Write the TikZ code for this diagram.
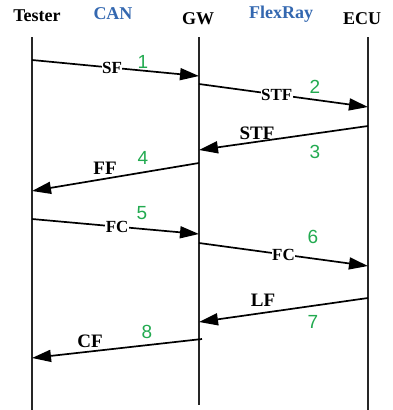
\documentclass[tikz,border=0pt]{standalone}
\usepackage{fontspec}
\setmainfont{Liberation Serif}
\newfontfamily\numfont{Liberation Sans}
\usetikzlibrary{arrows.meta}
\definecolor{netblue}{RGB}{52,104,176}
\definecolor{stepgreen}{RGB}{34,170,80}
\tikzset{
  lifeline/.style={line width=1.3pt, draw=black!85},
  msg/.style={line width=1.7pt, -{Triangle[length=19pt,width=12pt]}},
  party/.style={font=\bfseries\fontsize{18}{18}\selectfont, inner sep=0pt},
  netname/.style={font=\bfseries\fontsize{18}{18}\selectfont, text=netblue, inner sep=0pt},
  onlabel/.style={font=\bfseries\fontsize{17}{17}\selectfont, fill=white, inner sep=0.4pt},
  uplabel/.style={font=\bfseries\fontsize{19}{19}\selectfont, inner sep=0pt},
  stepno/.style={font=\numfont\fontsize{19}{19}\selectfont, text=stepgreen, inner sep=0pt}
}
\begin{document}
\begin{tikzpicture}[x=1pt,y=-1pt]
\useasboundingbox (0,0) rectangle (392,410);

% participants and networks
\node[party]   (tester) at (37,16) {Tester};
\node[netname] (can)    at (113,14) {CAN};
\node[party]   (gw)     at (198,19) {GW};
\node[netname] (flex)   at (281,14) {FlexRay};
\node[party]   (ecu)    at (362,19) {ECU};

% lifelines
\coordinate (tT) at (32,37);  \coordinate (tB) at (32,410);
\coordinate (gT) at (199,37); \coordinate (gB) at (199,405);
\coordinate (eT) at (368,37); \coordinate (eB) at (368,410);
\draw[lifeline] (tT) -- (tB);
\draw[lifeline] (gT) -- (gB);
\draw[lifeline] (eT) -- (eB);

% message end points on the lifelines
\coordinate (m1a) at (32,60);   \coordinate (m1b) at (199,76);
\coordinate (m2a) at (199,84);  \coordinate (m2b) at (368,107);
\coordinate (m3a) at (368,126); \coordinate (m3b) at (199,150);
\coordinate (m4a) at (199,163); \coordinate (m4b) at (32,191);
\coordinate (m5a) at (32,219);  \coordinate (m5b) at (199,234);
\coordinate (m6a) at (199,243); \coordinate (m6b) at (368,266);
\coordinate (m7a) at (368,298); \coordinate (m7b) at (199,322);
\coordinate (m8a) at (202,339); \coordinate (m8b) at (32,358);

% messages
\draw[msg] (m1a) -- node[onlabel, pos=0.48] (l1) {SF} (m1b);
\draw[msg] (m2a) -- node[onlabel, pos=0.46] (l2) {STF} (m2b);
\draw[msg] (m3a) -- (m3b);
\draw[msg] (m4a) -- (m4b);
\draw[msg] (m5a) -- node[onlabel, pos=0.51] (l5) {FC} (m5b);
\draw[msg] (m6a) -- node[onlabel, pos=0.50] (l6) {FC} (m6b);
\draw[msg] (m7a) -- (m7b);
\draw[msg] (m8a) -- (m8b);

% labels above the return messages
\node[uplabel] (l3) at (257,133) {STF};
\node[uplabel] (l4) at (105,168) {FF};
\node[uplabel] (l7) at (263,300) {LF};
\node[uplabel] (l8) at (90,341) {CF};

% step numbers
\node[stepno] (n1) at (143,62)  {1};
\node[stepno] (n2) at (315,87)  {2};
\node[stepno] (n3) at (315,152) {3};
\node[stepno] (n4) at (143,158) {4};
\node[stepno] (n5) at (142,213) {5};
\node[stepno] (n6) at (313,237) {6};
\node[stepno] (n7) at (313,322) {7};
\node[stepno] (n8) at (147,332) {8};
\end{tikzpicture}
\end{document}
